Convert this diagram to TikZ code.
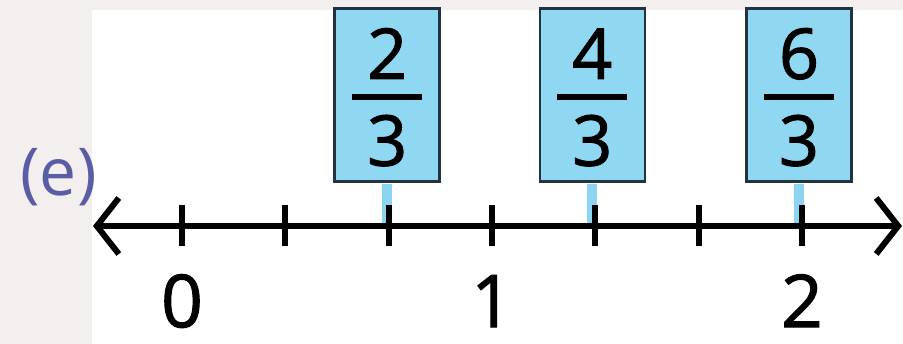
\documentclass[tikz,border=0pt]{standalone}
\usepackage{fontspec}
\setmainfont{Open Sans}[FakeBold=1.5]
\newfontfamily\tagfont{Open Sans}
\usetikzlibrary{positioning}
\usetikzlibrary{arrows.meta}

\definecolor{pagegray}{HTML}{F2EFEE}
\definecolor{cardblue}{HTML}{90D7F2}
\definecolor{cardedge}{HTML}{22333F}
\definecolor{stubblue}{HTML}{8CD4F0}
\definecolor{tagpurple}{HTML}{5A5CA6}

\tikzset{
  card/.style={draw=cardedge, line width=2.5pt, fill=cardblue, minimum width=105pt, minimum height=173pt, inner sep=0pt},
  fracbar/.style={fill=black, minimum width=70pt, minimum height=6pt, inner sep=0pt},
  fracdigit/.style={inner sep=0pt, text height=50pt, text depth=0pt, font=\fontsize{70}{70}\selectfont},
  axislabel/.style={inner sep=0pt, text height=52pt, text depth=0pt, font=\fontsize{73}{73}\selectfont},
  axisline/.style={line width=6pt, {Straight Barb[length=22pt, width=56pt, line width=6pt]}-{Straight Barb[length=22pt, width=56pt, line width=6pt]}},
  notch/.style={line width=6pt},
  stub/.style={draw=stubblue, line width=10pt},
}

\begin{document}
\begin{tikzpicture}[x=1pt, y=1pt]

    \useasboundingbox (0,0) rectangle (903,344) ; %
    \fill[pagegray] (0,0) rectangle (903,344) ; %
    \fill[white] (92,0) rectangle (903,334) ; %

    \coordinate (lend) at (93,118) ; %
    \coordinate (rend) at (902,118) ; %
    \coordinate (t0) at (182,118) ; %
    \coordinate (t1) at (285.3,118) ; %
    \coordinate (t2) at (388.7,118) ; %
    \coordinate (t3) at (492,118) ; %
    \coordinate (t4) at (595.3,118) ; %
    \coordinate (t5) at (698.7,118) ; %
    \coordinate (t6) at (802,118) ; %

    \node[card, above=43pt of t2, xshift=-1.5pt] (twothirds) {} ; %
    \node[card, above=43pt of t4, xshift=-3pt] (fourthirds) {} ; %
    \node[card, above=43pt of t6, xshift=-3pt] (sixthirds) {} ; %

    \node[fracbar, yshift=-2pt] at (twothirds) (twothirds_bar) {} ; %
    \node[fracdigit, above=15pt of twothirds_bar] (twothirds_num) {2} ; %
    \node[fracdigit, below=15pt of twothirds_bar] (twothirds_den) {3} ; %
    \node[fracbar, yshift=-2pt] at (fourthirds) (fourthirds_bar) {} ; %
    \node[fracdigit, above=15pt of fourthirds_bar] (fourthirds_num) {4} ; %
    \node[fracdigit, below=15pt of fourthirds_bar] (fourthirds_den) {3} ; %
    \node[fracbar, yshift=-2pt] at (sixthirds) (sixthirds_bar) {} ; %
    \node[fracdigit, above=15pt of sixthirds_bar] (sixthirds_num) {6} ; %
    \node[fracdigit, below=15pt of sixthirds_bar] (sixthirds_den) {3} ; %

    \draw[stub, shorten <=1.5pt] (twothirds.south) -- (twothirds.south |- t2) ; %
    \draw[stub, shorten <=1.5pt] (fourthirds.south) -- (fourthirds.south |- t4) ; %
    \draw[stub, shorten <=1.5pt] (sixthirds.south) -- (sixthirds.south |- t6) ; %

    \draw[axisline] (lend) -- (rend) ; %

    \draw[notch] ([yshift=21pt]t0) -- ([yshift=-20pt]t0) ; %
    \draw[notch] ([yshift=21pt]t1) -- ([yshift=-20pt]t1) ; %
    \draw[notch] ([yshift=21pt]t2) -- ([yshift=-20pt]t2) ; %
    \draw[notch] ([yshift=21pt]t3) -- ([yshift=-20pt]t3) ; %
    \draw[notch] ([yshift=21pt]t4) -- ([yshift=-20pt]t4) ; %
    \draw[notch] ([yshift=21pt]t5) -- ([yshift=-20pt]t5) ; %
    \draw[notch] ([yshift=21pt]t6) -- ([yshift=-20pt]t6) ; %

    \node[axislabel, below=49pt of t0] (zero) {0} ; %
    \node[axislabel, below=49pt of t3] (one) {1} ; %
    \node[axislabel, below=49pt of t6] (two) {2} ; %

    \node[inner sep=0pt, text=tagpurple, font=\tagfont\fontsize{66}{66}\selectfont] at (58.5,167) (part) {(e)} ; %

\end{tikzpicture}
\end{document}
